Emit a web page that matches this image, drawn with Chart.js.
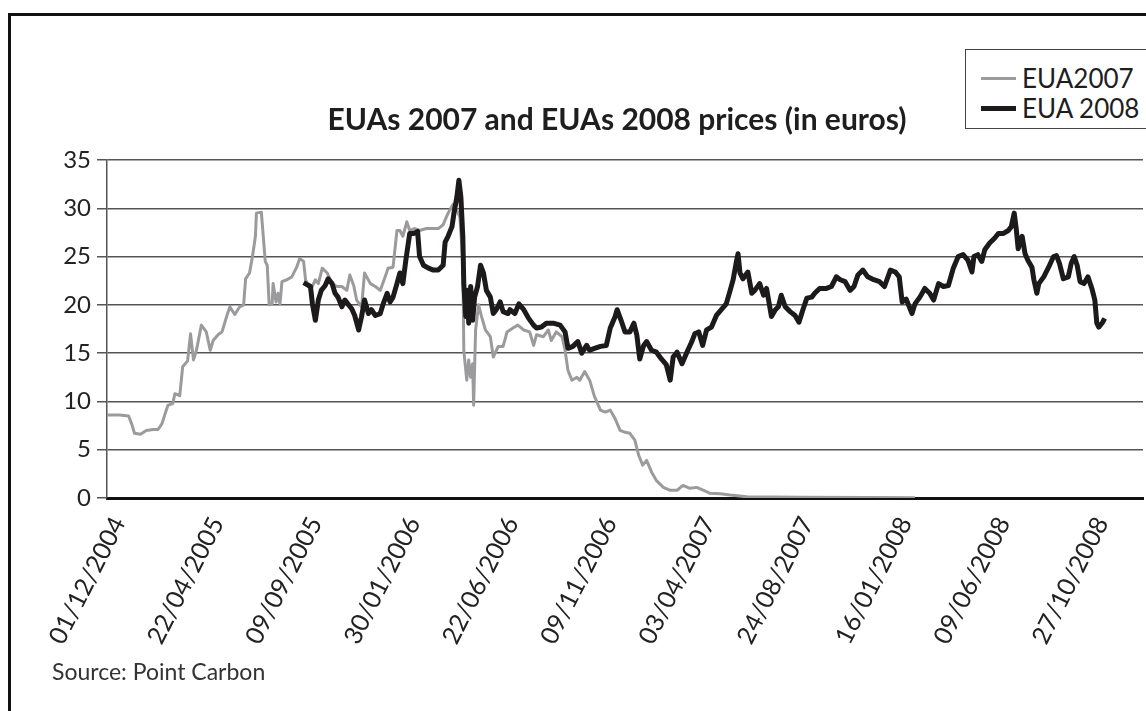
<!DOCTYPE html>
<html>
<head>
<meta charset="utf-8">
<script src="https://cdn.jsdelivr.net/npm/chart.js@4.4.1/dist/chart.umd.min.js"></script>
<style>
  html, body { margin:0; padding:0; background:#fff; width:1146px; height:711px; overflow:hidden; }
  body { position:relative; font-family: Lato, "Open Sans", "DejaVu Sans", sans-serif; color:#222; }
  #frame { position:absolute; left:8px; top:13px; width:1300px; height:900px; border:3px solid #111; box-sizing:border-box; }
  #chartWrap { position:absolute; left:0; top:0; width:1146px; height:711px; }
  #title { position:absolute; left:267px; top:100px; width:700px; text-align:center; font-weight:700; font-size:30px; color:#1e1e1e; white-space:nowrap; }
  #legend { position:absolute; left:965px; top:49px; width:260px; height:80px; border:1.5px solid #444; box-sizing:border-box; background:#fff; }
  .lg-item { position:absolute; left:15px; height:30px; display:flex; align-items:center; white-space:nowrap; font-size:26px; color:#1e1e1e; }
  .lg-swatch { width:35px; margin-right:6px; }
  #source { position:absolute; left:52px; top:657px; font-size:23px; color:#333; white-space:nowrap; }
</style>
</head>
<body>
<div id="frame"></div>
<div id="chartWrap"><canvas id="c" width="1146" height="711"></canvas></div>
<div id="title">EUAs 2007 and EUAs 2008 prices (in euros)</div>
<div id="legend"></div>
<div id="source">Source: Point Carbon</div>
<script>
// ---- data (trading-day index, price in euros) ----
const tickLabels = ['01/12/2004','22/04/2005','09/09/2005','30/01/2006','22/06/2006','09/11/2006','03/04/2007','24/08/2007','16/01/2008','09/06/2008','27/10/2008'];
const tickDays = [0,100,200,300,400,500,600,700,800,900,1000];

const eua2007Day = [0,13,22,25,28,34,40,47,52,56,
59,62,67,69,74,77,82,85,88,91,
96,101,105,108,113,117,122,125,130,135,
139,141,145,148,151,152,157,159,161,163,
165,168,169,172,174,176,178,183,188,193,
196,200,202,207,212,215,219,224,229,234,
239,244,247,251,254,259,262,268,273,278,
283,286,291,295,298,301,305,308,313,318,
325,332,337,342,347,352,356,359,362,363,
366,368,370,372,373,375,378,381,385,390,
393,398,403,407,413,418,424,430,434,437,
444,449,452,457,463,466,469,473,478,481,
486,491,496,502,507,512,517,522,527,532,
537,541,545,549,554,559,566,573,580,586,
593,600,607,613,624,634,651,705,773,822];
const eua2007Price = [8.6,8.6,8.5,7.7,6.7,6.6,7.0,7.1,7.1,7.7,
8.7,9.6,9.8,10.8,10.6,13.6,14.2,17.0,14.3,15.3,
17.9,17.2,15.3,16.3,16.9,17.2,18.9,19.8,19.0,19.8,
20.0,22.7,23.3,25.0,27.1,29.5,29.6,27.1,24.5,24.1,
20.0,20.1,22.2,20.3,21.2,20.1,22.4,22.6,22.9,23.9,
24.8,24.5,22.6,21.5,22.6,22.2,23.8,23.3,22.2,21.9,
21.9,21.5,23.1,22.0,20.5,19.8,23.3,22.2,21.9,21.5,
22.9,23.8,23.9,27.7,27.7,27.1,28.6,27.7,27.9,27.7,
27.9,27.9,27.9,28.3,29.5,30.4,29.8,29.1,24.6,15.3,
12.2,14.3,12.5,13.9,9.6,17.4,20.0,18.8,17.4,16.7,
14.6,15.7,15.7,17.2,17.6,17.9,17.4,17.2,15.8,16.9,
16.7,17.4,16.3,17.2,16.7,15.3,13.2,12.2,12.5,12.2,
13.1,12.2,10.5,9.1,8.9,9.1,8.2,7.0,6.8,6.7,
6.0,4.4,3.4,3.9,2.7,1.8,1.1,0.8,0.8,1.3,
1.0,1.1,0.8,0.5,0.45,0.3,0.12,0.08,0.05,0.03];

const eua2008Day = [200,207,209,212,215,218,222,225,229,232,
235,239,242,245,249,252,256,259,262,266,
269,273,278,281,285,288,291,295,298,301,
304,308,312,316,318,322,327,332,337,342,
344,347,351,353,356,358,360,362,363,365,
367,368,370,372,374,377,380,383,386,390,
393,396,400,403,408,410,415,419,424,429,
434,437,442,447,454,461,466,469,474,479,
483,488,491,496,502,508,512,517,519,523,
527,532,536,539,542,546,549,554,559,564,
569,573,576,580,585,590,595,598,602,606,
610,615,620,625,630,634,637,640,642,644,
647,652,656,659,664,668,671,676,680,683,
686,690,695,700,704,708,712,717,720,725,
732,737,742,746,751,756,760,764,769,774,
780,786,791,797,802,806,809,813,819,822,
827,832,837,841,846,851,856,861,866,871,
876,880,882,886,890,893,898,903,907,912,
917,920,923,925,927,931,934,937,941,943,
946,948,953,958,963,966,969,973,978,981,
984,987,990,994,998,1002,1005,1007,1009,1013,
1015];
const eua2008Price = [22.3,21.9,20.1,18.4,20.5,21.5,22.0,22.7,22.2,21.2,
20.8,19.8,20.5,20.1,19.6,18.9,17.4,18.8,20.5,19.1,
19.5,18.9,19.1,20.1,21.2,20.3,20.8,22.2,23.3,22.2,
24.6,27.4,27.4,27.6,25.0,24.1,23.8,23.6,23.6,24.1,
26.5,27.1,28.1,29.5,31.2,32.9,31.2,27.1,22.2,18.8,
21.5,18.1,21.9,18.4,20.8,21.9,24.1,23.3,21.5,20.8,
19.1,19.5,20.3,19.3,19.1,19.5,19.1,20.1,19.5,18.6,
17.9,17.6,17.7,18.1,18.1,17.9,17.2,15.5,15.7,16.2,
15.0,15.8,15.3,15.5,15.7,15.8,17.6,18.8,19.5,18.4,
17.2,17.2,18.1,16.9,14.4,15.8,16.2,15.3,15.1,14.4,
13.8,12.2,14.6,15.1,13.9,15.1,16.2,17.0,17.2,15.8,
17.4,17.7,18.9,19.5,20.1,21.5,22.6,24.3,25.3,23.3,
22.7,23.4,21.2,21.5,22.2,21.0,21.7,18.8,19.5,19.8,
21.0,19.8,19.3,18.9,18.2,19.5,20.7,20.8,21.2,21.7,
21.7,21.9,22.9,22.6,22.4,21.5,21.9,23.1,23.6,22.9,
22.6,22.4,21.9,23.6,23.4,22.9,20.3,20.6,19.1,20.1,
20.8,21.7,21.2,20.5,22.2,21.9,22.0,23.8,25.0,25.2,
24.6,23.4,25.0,25.2,24.5,25.7,26.4,26.9,27.4,27.4,
27.7,28.1,29.5,27.9,25.8,27.1,25.3,24.6,23.9,22.6,
21.2,22.2,22.9,23.9,25.0,25.1,24.3,22.7,22.9,24.3,
25.0,24.1,22.4,22.2,22.9,21.7,20.5,18.1,17.7,18.2,
18.6];

const seriesNames = ['EUA2007', 'EUA 2008'];
const seriesColors = ['#9b9b9d', '#1c1a1b'];

// ---- build chart ----
const toPoints = (days, prices) => days.map((d, i) => ({ x: d, y: prices[i] }));
const FONT = 'Lato, "Open Sans", "DejaVu Sans", sans-serif';

const chart = new Chart(document.getElementById('c'), {
  type: 'line',
  data: {
    datasets: [
      { label: seriesNames[0], data: toPoints(eua2007Day, eua2007Price), borderColor: seriesColors[0],
        borderWidth: 3, pointRadius: 0, tension: 0, order: 1, borderJoinStyle: 'round' },
      { label: seriesNames[1], data: toPoints(eua2008Day, eua2008Price), borderColor: seriesColors[1],
        borderWidth: 5, pointRadius: 0, tension: 0, order: 0, borderJoinStyle: 'round' }
    ]
  },
  options: {
    responsive: false,
    animation: false,
    devicePixelRatio: 1,
    layout: { padding: { left: 0, top: 160, right: 3, bottom: 0 } },
    plugins: { legend: { display: false }, tooltip: { enabled: false }, title: { display: false } },
    scales: {
      x: {
        type: 'linear', min: 0, max: 1054,
        afterBuildTicks: (s) => { s.ticks = tickDays.map(v => ({ value: v })); },
        afterFit: (s) => { s.height = 213; },
        grid: { display: false },
        border: { display: true, color: '#111', width: 3 },
        ticks: {
          autoSkip: false, minRotation: 63, maxRotation: 63, padding: 6, labelOffset: 12,
          color: '#222', font: { family: FONT, size: 25 },
          callback: (v) => { const i = tickDays.indexOf(v); return i >= 0 ? tickLabels[i] : ''; }
        }
      },
      y: {
        min: 0, max: 35,
        afterFit: (s) => { s.width = 107; },
        grid: { color: '#555', lineWidth: 1.5, tickLength: 10, drawTicks: true },
        border: { display: true, color: '#555', width: 1.5 },
        ticks: { stepSize: 5, padding: 6, color: '#222', font: { family: FONT, size: 24 } }
      }
    }
  }
});

// ---- legend built from the chart datasets ----
const lg = document.getElementById('legend');
chart.data.datasets.forEach((ds, i) => {
  const item = document.createElement('div');
  item.className = 'lg-item';
  item.style.top = (13 + i * 30) + 'px';
  const sw = document.createElement('span');
  sw.className = 'lg-swatch';
  sw.style.borderTop = (i === 0 ? 3 : 5) + 'px solid ' + ds.borderColor;
  item.appendChild(sw);
  item.appendChild(document.createTextNode(ds.label));
  lg.appendChild(item);
});
</script>
</body>
</html>
